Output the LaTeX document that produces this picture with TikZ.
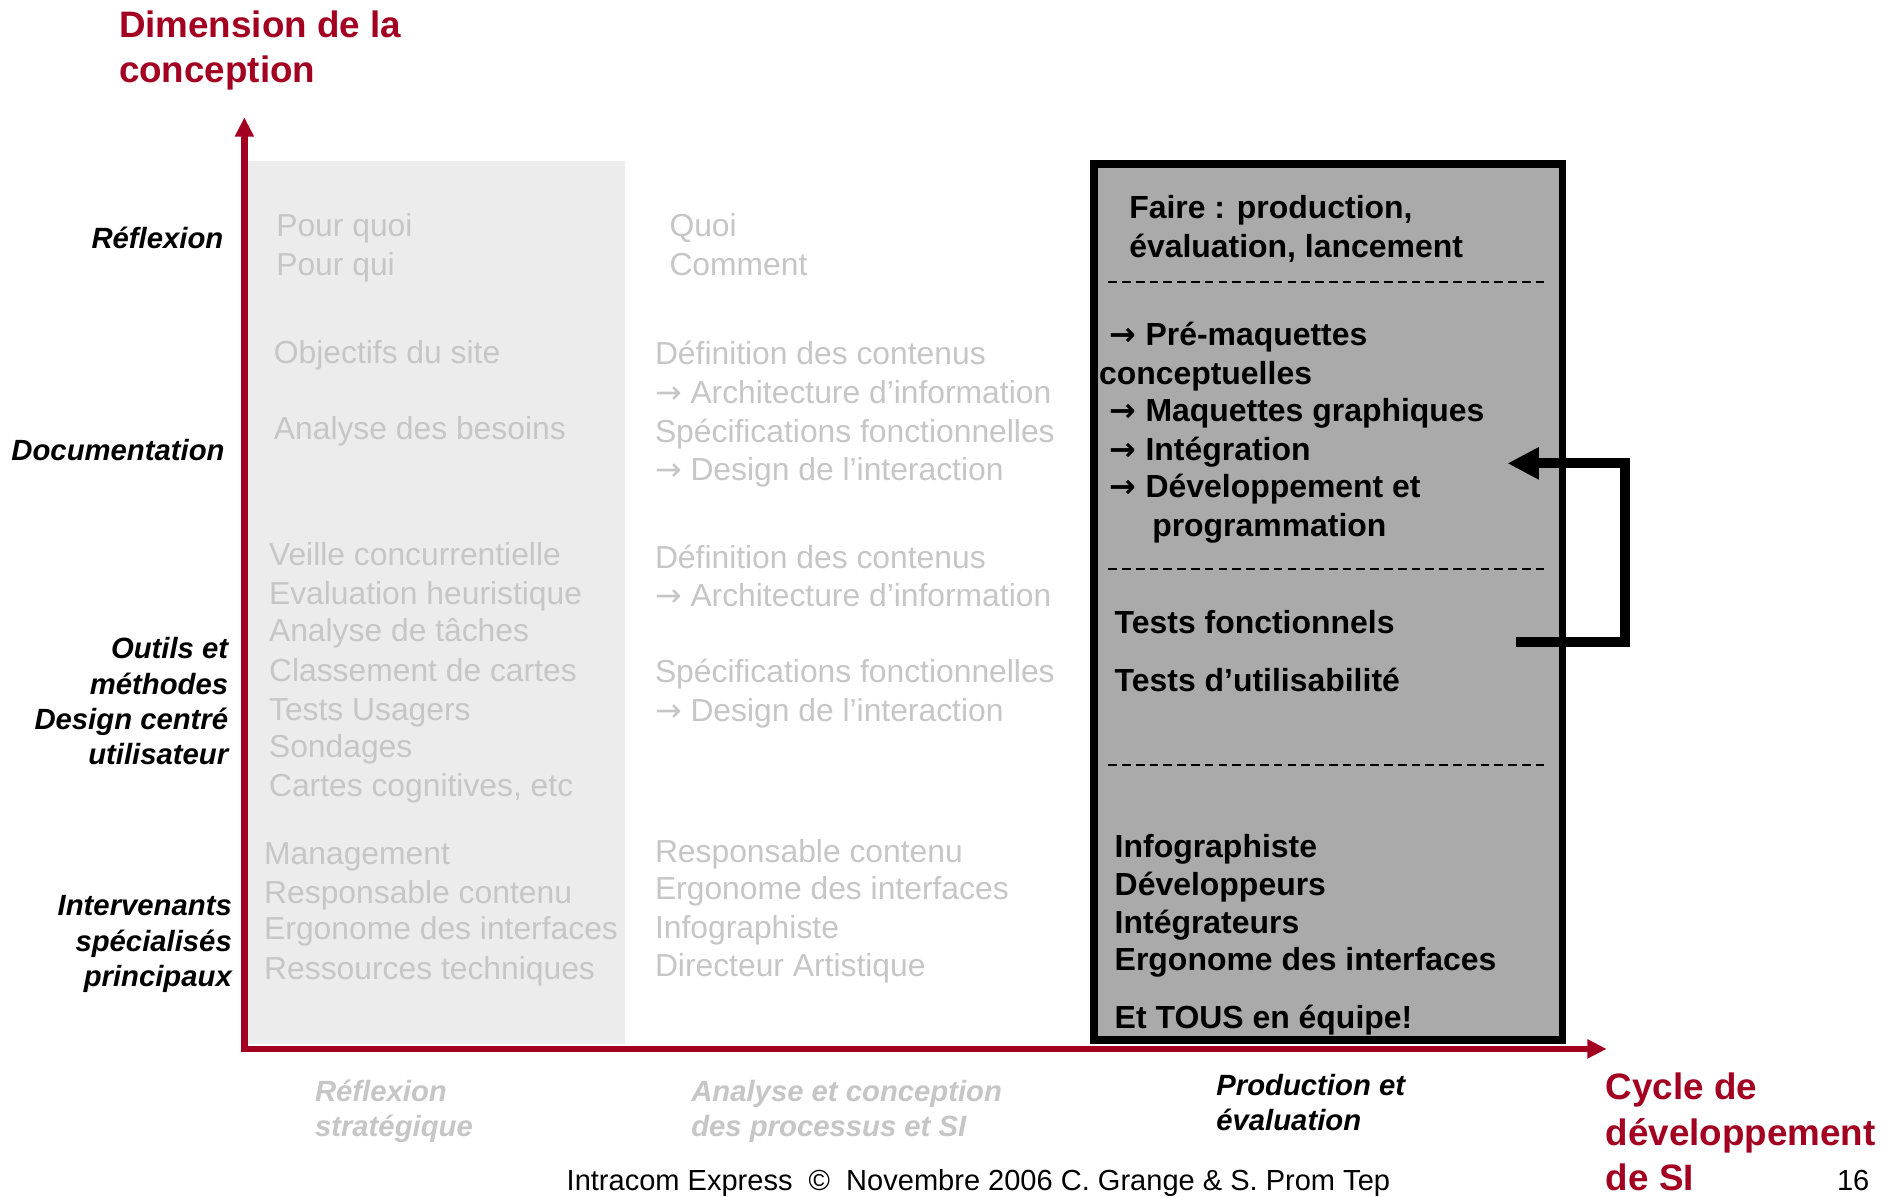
\documentclass[tikz,border=0pt]{standalone}
\usepackage{fontspec}
\setmainfont{Liberation Sans}
\newfontfamily\arrowfont{DejaVu Sans}
\usetikzlibrary{arrows.meta}
\definecolor{axred}{RGB}{163,0,33}
\definecolor{fadegray}{RGB}{198,198,198}
\definecolor{lightbox}{RGB}{236,236,236}
\definecolor{darkbox}{RGB}{170,170,170}
\newcommand{\barrow}{{\arrowfont\bfseries →}}
\newcommand{\farrow}{{\arrowfont →}}
\begin{document}
\begin{tikzpicture}[x=0.5pt,y=-0.5pt,
  redt/.style={text=axred, font=\fontsize{15.2}{18}\selectfont\bfseries, anchor=base west, inner sep=0pt},
  lab/.style={font=\fontsize{12.1}{14}\selectfont\bfseries\itshape, anchor=base east, inner sep=0pt},
  faded/.style={text=fadegray, font=\fontsize{13.15}{15}\selectfont, anchor=base west, inner sep=0pt},
  fadedlab/.style={text=fadegray, font=\fontsize{12.1}{14}\selectfont\bfseries\itshape, anchor=base west, inner sep=0pt},
  steplab/.style={font=\fontsize{12.1}{14}\selectfont\bfseries\itshape, anchor=base west, inner sep=0pt},
  boxt/.style={font=\fontsize{13.2}{15}\selectfont\bfseries, anchor=base west, inner sep=0pt},
  foot/.style={font=\fontsize{12}{14}\selectfont, anchor=base west, inner sep=0pt},
  axis/.style={draw=axred, line width=2.6pt},
  prodbox/.style={draw=black, line width=3.3pt, fill=darkbox},
  sepline/.style={draw=black, line width=0.8pt, dash pattern=on 3.6pt off 2.1pt},
  fb/.style={draw=black, line width=4.2pt}
]
\useasboundingbox (0,0) rectangle (1568,989);
\fill[white] (0,0) rectangle (1568,989);

% light column
\fill[lightbox] (204.5,133) rectangle (517,863);

% production box
\draw[prodbox] (904.5,135.5) rectangle (1291.5,860);
\draw[sepline] (916,233) -- (1280,233);
\draw[sepline] (916,470) -- (1280,470);
\draw[sepline] (916,632) -- (1280,632);

% axes
\coordinate (Ytip) at (202,97);
\coordinate (Xtip) at (1328,867);
\draw[axis, {Triangle[length=8pt,width=7.5pt]}-{Triangle[length=8pt,width=7.5pt]}] (Ytip) |- (Xtip);

% titles
\node[redt] (t1) at (98,31) {Dimension de la};
\node[redt] (t2) at (98,68) {conception};
\node[redt] (c1) at (1327,909) {Cycle de};
\node[redt] (c2) at (1327,946.5) {développement};
\node[redt] (c3) at (1327,984) {de SI};

% left labels
\node[lab] (r1) at (185,205.7) {Réflexion};
\node[lab] (r2) at (186,380.7) {Documentation};
\node[lab] (r3a) at (189,544.7) {Outils et};
\node[lab] (r3b) at (189,573.7) {méthodes};
\node[lab] (r3c) at (189,602.7) {Design centré};
\node[lab] (r3d) at (189,631.7) {utilisateur};
\node[lab] (r4a) at (192,756.7) {Intervenants};
\node[lab] (r4b) at (192,786.7) {spécialisés};
\node[lab] (r4c) at (192,815.7) {principaux};

% faded left column
\foreach \t/\x/\y [count=\i] in {Pour quoi/228/195.5, Pour qui/228/227.5, Objectifs du site/226/300.5, Analyse des besoins/226/363.5, Veille concurrentielle/222/467.5, Evaluation heuristique/222/499.5, Analyse de tâches/222/530.5, Classement de cartes/222/563.5, Tests Usagers/222/595.5, Sondages/222/626.5, {Cartes cognitives, etc}/222/658.5, Management/218/714.5, Responsable contenu/218/746.5, Ergonome des interfaces/218/776.5, Ressources techniques/218/809.5}
  \node[faded] (a\i) at (\x,\y) {\t};

% faded middle column
\foreach \t/\x/\y [count=\i] in {Quoi/553/195.5, Comment/553/227.5, Définition des contenus/541/301.5, \farrow{} Architecture d’information/541/333.5, Spécifications fonctionnelles/541/365.5, \farrow{} Design de l’interaction/541/397.5, Définition des contenus/541/469.5, \farrow{} Architecture d’information/541/501.5, Spécifications fonctionnelles/541/564.5, \farrow{} Design de l’interaction/541/596.5, Responsable contenu/541/712.5, Ergonome des interfaces/541/743.5, Infographiste/541/775.5, Directeur Artistique/541/807.5}
  \node[faded] (m\i) at (\x,\y) {\t};

% production box text
\node[boxt] (p1) at (933,180.5) {Faire : production,};
\node[boxt] (p2) at (933,212.5) {évaluation, lancement};
\node[boxt] (p3) at (917,285.5) {\barrow{} Pré-maquettes};
\node[boxt] (p4) at (908,317.5) {conceptuelles};
\node[boxt] (p5) at (917,348.5) {\barrow{} Maquettes graphiques};
\node[boxt] (p6) at (917,380.5) {\barrow{} Intégration};
\node[boxt] (p7) at (917,411.5) {\barrow{} Développement et};
\node[boxt] (p8) at (952,443.5) {programmation};
\node[boxt] (p9) at (921,523.5) {Tests fonctionnels};
\node[boxt] (p10) at (921,571.5) {Tests d’utilisabilité};
\node[boxt] (p11) at (921,708.5) {Infographiste};
\node[boxt] (p12) at (921,740.5) {Développeurs};
\node[boxt] (p13) at (921,771.5) {Intégrateurs};
\node[boxt] (p14) at (921,802.5) {Ergonome des interfaces};
\node[boxt] (p15) at (921,850.5) {Et TOUS en équipe!};

% feedback arrow
\coordinate (fbS) at (1253,531);
\coordinate (fbR) at (1343,531);
\coordinate (fbE) at (1246,383);
\draw[fb, -{Triangle[length=13pt,width=12.5pt]}] (fbS) -- (fbR) |- (fbE);

% bottom phase labels
\node[fadedlab] (b1) at (260,910.7) {Réflexion};
\node[fadedlab] (b2) at (260,939.7) {stratégique};
\node[fadedlab] (b3) at (571,910.7) {Analyse et conception};
\node[fadedlab] (b4) at (571,939.7) {des processus et SI};
\node[steplab] (b5) at (1005,905.7) {Production et};
\node[steplab] (b6) at (1005,934.7) {évaluation};

% footer
\node[foot] (f1) at (468,984) {Intracom Express~~©~~Novembre 2006 C. Grange \& S. Prom Tep};
\node[foot] (f2) at (1518,984) {16};
\end{tikzpicture}
\end{document}
